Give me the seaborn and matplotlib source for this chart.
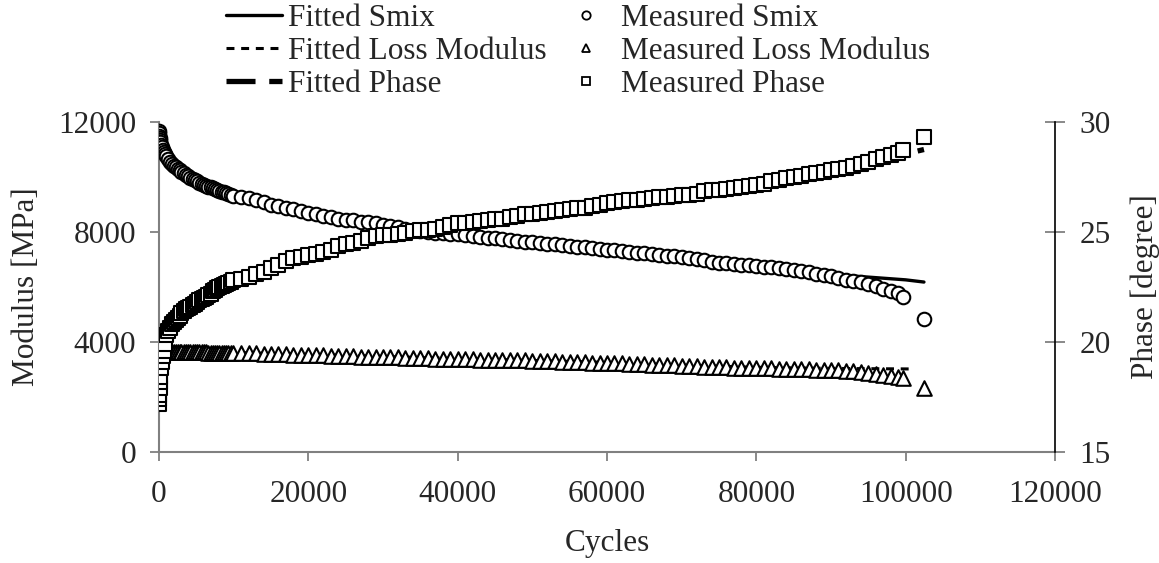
import numpy as np
import pandas as pd
import matplotlib
matplotlib.use("Agg")
import matplotlib.pyplot as plt
import seaborn as sns
from matplotlib.lines import Line2D

# ---------------- data ----------------
meas_cycles = [10, 30, 60, 100, 150, 200, 300, 400, 500, 650, 800, 1000, 1250, 1500, 1750,
               2000, 2250, 2500, 2750, 3000, 3300, 3600, 3900, 4200, 4500, 4800, 5100, 5400,
               5700, 6000, 6300, 6600, 6900, 7200, 7500, 7800, 8100, 8400, 8700, 9000, 9300,
               9600, 9900,
               11000, 12000, 13000, 14000, 15000, 16000, 17000, 18000, 19000, 20000,
               21000, 22000, 23000, 24000, 25000, 26000, 27000, 28000, 29000, 30000,
               31000, 32000, 33000, 34000, 35000, 36000, 37000, 38000, 39000, 40000,
               41000, 42000, 43000, 44000, 45000, 46000, 47000, 48000, 49000, 50000,
               51000, 52000, 53000, 54000, 55000, 56000, 57000, 58000, 59000, 60000,
               61000, 62000, 63000, 64000, 65000, 66000, 67000, 68000, 69000, 70000,
               71000, 72000, 73000, 74000, 75000, 76000, 77000, 78000, 79000, 80000,
               81000, 82000, 83000, 84000, 85000, 86000, 87000, 88000, 89000, 90000,
               91000, 92000, 93000, 94000, 95000, 96000, 97000, 98000, 99000, 99700,
               102450]

meas_smix = [11680, 11600, 11500, 11420, 11340, 11270, 11170, 11080, 11000, 10920, 10850,
             10760, 10660, 10540, 10480, 10410, 10350, 10290, 10240, 10190, 10130, 10080,
             10030, 9980, 9930, 9890, 9840, 9800, 9760, 9720, 9690, 9650, 9620, 9590, 9560,
             9530, 9500, 9470, 9440, 9410, 9380, 9350, 9320,
             9270, 9230, 9160, 9080, 9000, 8950, 8890, 8820, 8750, 8680,
             8650, 8600, 8540, 8480, 8450, 8420, 8380, 8350, 8310, 8270,
             8230, 8170, 8120, 8080, 8040, 8010, 7980, 7950, 7930, 7910,
             7890, 7860, 7830, 7800, 7770, 7730, 7700, 7670, 7640, 7620,
             7600, 7570, 7550, 7520, 7490, 7470, 7450, 7420, 7390, 7360,
             7330, 7300, 7270, 7250, 7220, 7190, 7160, 7130, 7110, 7080,
             7060, 7020, 6970, 6920, 6890, 6870, 6840, 6810, 6790, 6770,
             6740, 6720, 6690, 6660, 6620, 6580, 6540, 6490, 6440, 6390,
             6330, 6270, 6220, 6180, 6120, 6020, 5940, 5860, 5770, 5640,
             4840]

meas_loss = [3300, 3420, 3500, 3550, 3580, 3600, 3620, 3630, 3640, 3640, 3640, 3640, 3640,
             3640, 3640, 3640, 3640, 3635, 3635, 3635, 3630, 3630, 3630, 3630, 3625, 3625,
             3625, 3620, 3620, 3620, 3620, 3615, 3615, 3615, 3615, 3610, 3610, 3610, 3610,
             3605, 3605, 3605, 3600,
             3600, 3590, 3590, 3570, 3560, 3560, 3550, 3540, 3530, 3530,
             3520, 3510, 3500, 3490, 3490, 3480, 3470, 3470, 3460, 3450,
             3450, 3440, 3430, 3420, 3420, 3410, 3400, 3400, 3390, 3380,
             3380, 3370, 3360, 3360, 3350, 3340, 3340, 3330, 3330, 3320,
             3310, 3310, 3300, 3290, 3280, 3270, 3260, 3250, 3240, 3240,
             3230, 3220, 3210, 3200, 3190, 3180, 3170, 3160, 3150, 3130,
             3120, 3110, 3100, 3100, 3090, 3080, 3070, 3060, 3050, 3050,
             3040, 3040, 3030, 3030, 3020, 3010, 3010, 3000, 2990, 2980,
             2970, 2950, 2930, 2900, 2870, 2830, 2790, 2750, 2720, 2690,
             2330]

meas_phase = [17.2, 17.4, 17.6, 17.9, 18.2, 18.4, 18.8, 19.1, 19.35, 19.6, 19.9, 20.3, 20.5,
              20.65, 20.8, 20.9, 21.0, 21.1, 21.2, 21.3, 21.4, 21.5, 21.55, 21.6, 21.7, 21.75,
              21.8, 21.9, 21.95, 22.0, 22.05, 22.15, 22.2, 22.3, 22.35, 22.45, 22.5, 22.55,
              22.6, 22.65, 22.7, 22.75, 22.8,
              22.85, 22.95, 23.1, 23.2, 23.35, 23.5, 23.7, 23.8, 23.85, 23.95,
              24.0, 24.1, 24.2, 24.35, 24.45, 24.5, 24.6, 24.75, 24.8, 24.85,
              24.85, 24.9, 24.95, 25.05, 25.1, 25.1, 25.15, 25.25, 25.3, 25.4,
              25.4, 25.45, 25.5, 25.55, 25.6, 25.6, 25.7, 25.75, 25.8, 25.8,
              25.85, 25.9, 25.95, 26.0, 26.05, 26.1, 26.1, 26.2, 26.25, 26.3,
              26.35, 26.4, 26.45, 26.45, 26.5, 26.55, 26.6, 26.6, 26.65, 26.7,
              26.7, 26.75, 26.85, 26.9, 26.9, 26.95, 27.0, 27.05, 27.1, 27.15,
              27.2, 27.3, 27.35, 27.45, 27.5, 27.55, 27.65, 27.7, 27.75, 27.8,
              27.85, 27.9, 28.0, 28.1, 28.2, 28.3, 28.4, 28.5, 28.6, 28.75,
              29.3]

fit_smix_cycles = [10, 100, 300, 500, 1000, 2000, 3000, 5000, 7500, 10000, 15000, 20000,
                   30000, 40000, 50000, 60000, 70000, 80000, 85000, 90000, 95000, 100000,
                   102450]
fit_smix = [11680, 11420, 11170, 11000, 10760, 10410, 10190, 9830, 9560, 9310, 9000, 8680,
            8270, 7910, 7620, 7360, 7080, 6770, 6620, 6460, 6360, 6260, 6180]

fit_loss_cycles = [10, 100, 500, 2000, 10000, 20000, 40000, 60000, 70000, 80000, 90000,
                   95000, 100700]
fit_loss = [3350, 3570, 3650, 3650, 3620, 3550, 3400, 3260, 3160, 3080, 3040, 3030, 3020]

fit_phase_cycles = [10, 100, 300, 500, 1000, 2000, 3000, 5000, 7500, 10000, 15000, 20000,
                    30000, 40000, 50000, 60000, 70000, 80000, 90000, 95000, 100000, 102450]
fit_phase = [17.2, 17.9, 18.8, 19.35, 20.3, 20.9, 21.3, 21.8, 22.35, 22.8, 23.4, 24.0, 24.85,
             25.4, 25.85, 26.35, 26.75, 27.2, 27.85, 28.2, 28.55, 28.75]

meas = pd.DataFrame({"Cycles": meas_cycles, "Smix": meas_smix,
                     "Loss": meas_loss, "Phase": meas_phase})
fs = pd.DataFrame({"Cycles": fit_smix_cycles, "v": fit_smix})
fl = pd.DataFrame({"Cycles": fit_loss_cycles, "v": fit_loss})
fp = pd.DataFrame({"Cycles": fit_phase_cycles, "v": fit_phase})

# ---------------- style ----------------
sns.set_style("white")
plt.rcParams["font.family"] = ["Liberation Serif", "DejaVu Serif"]
FS = 22.5
GRAY = "#808080"

fig = plt.figure(figsize=(11.59, 5.63), dpi=100)
ax = fig.add_axes([159 / 1159, 1 - 452 / 563, (1055 - 159) / 1159, (452 - 122) / 563])
ax2 = ax.twinx()

line_kw = dict(color="black", estimator=None, sort=False, legend=False, zorder=1)
sns.lineplot(data=fs, x="Cycles", y="v", ax=ax, lw=2.4, **line_kw)
sns.lineplot(data=fl, x="Cycles", y="v", ax=ax, lw=2.2, **line_kw)
ax.lines[-1].set_linestyle((0, (2.6, 2.2)))
sns.lineplot(data=fp, x="Cycles", y="v", ax=ax2, lw=3.8, **line_kw)
ax2.lines[-1].set_linestyle((0, (5.5, 2.6)))

mk = dict(color="white", edgecolor="black", linewidth=1.5, legend=False, zorder=3)
sns.scatterplot(data=meas, x="Cycles", y="Smix", ax=ax, marker="o", s=95, **mk)
sns.scatterplot(data=meas, x="Cycles", y="Loss", ax=ax, marker="^", s=110, **mk)
sns.scatterplot(data=meas, x="Cycles", y="Phase", ax=ax2, marker="s", s=95, **mk)

ax.set_xlim(0, 120000)
ax.set_ylim(0, 12000)
ax2.set_ylim(15, 30)
ax.set_xticks([0, 20000, 40000, 60000, 80000, 100000, 120000])
ax.set_yticks([0, 4000, 8000, 12000])
ax2.set_yticks([15, 20, 25, 30])

ax.set_xlabel("Cycles", fontsize=FS, labelpad=14)
ax.set_ylabel("Modulus [MPa]", fontsize=FS, labelpad=12)
ax2.set_ylabel("Phase [degree]", fontsize=FS, labelpad=14)

for a in (ax, ax2):
    a.spines["top"].set_visible(False)
for s in ("left", "bottom"):
    ax.spines[s].set_color(GRAY)
    ax.spines[s].set_linewidth(1.5)
ax.spines["right"].set_visible(False)
ax2.spines["left"].set_visible(False)
ax2.spines["bottom"].set_visible(False)
ax2.spines["right"].set_color("black")
ax2.spines["right"].set_linewidth(1.2)

ax.tick_params(axis="both", which="major", direction="out", length=6.5, width=1.3,
               color=GRAY, labelsize=FS, left=True, bottom=True)
ax.tick_params(axis="y", pad=10)
ax.tick_params(axis="x", pad=14)
ax2.tick_params(axis="y", direction="inout", length=15, width=1.3, color=GRAY,
                labelsize=FS, right=True, pad=10)

# ---------------- legend ----------------
handles = [
    Line2D([], [], color="black", lw=2.4),
    Line2D([], [], color="black", lw=2.2, linestyle=(0, (2.6, 2.2))),
    Line2D([], [], color="black", lw=3.8, linestyle=(0, (5.5, 2.6))),
    Line2D([], [], ls="none", marker="o", mfc="white", mec="black", ms=6, mew=1.3),
    Line2D([], [], ls="none", marker="^", mfc="white", mec="black", ms=6, mew=1.3),
    Line2D([], [], ls="none", marker="s", mfc="white", mec="black", ms=6, mew=1.3),
]
labels = ["Fitted Smix", "Fitted Loss Modulus", "Fitted Phase",
          "Measured Smix", "Measured Loss Modulus", "Measured Phase"]
fig.legend(handles, labels, ncol=2, frameon=False, fontsize=FS,
           loc="upper left", bbox_to_anchor=(226 / 1159, 1.0 - 4 / 563),
           handlelength=1.8, handletextpad=0.2, columnspacing=0.35, labelspacing=0.13,
           borderaxespad=0.0, borderpad=0.0)

fig.savefig("out.png", dpi=100)
